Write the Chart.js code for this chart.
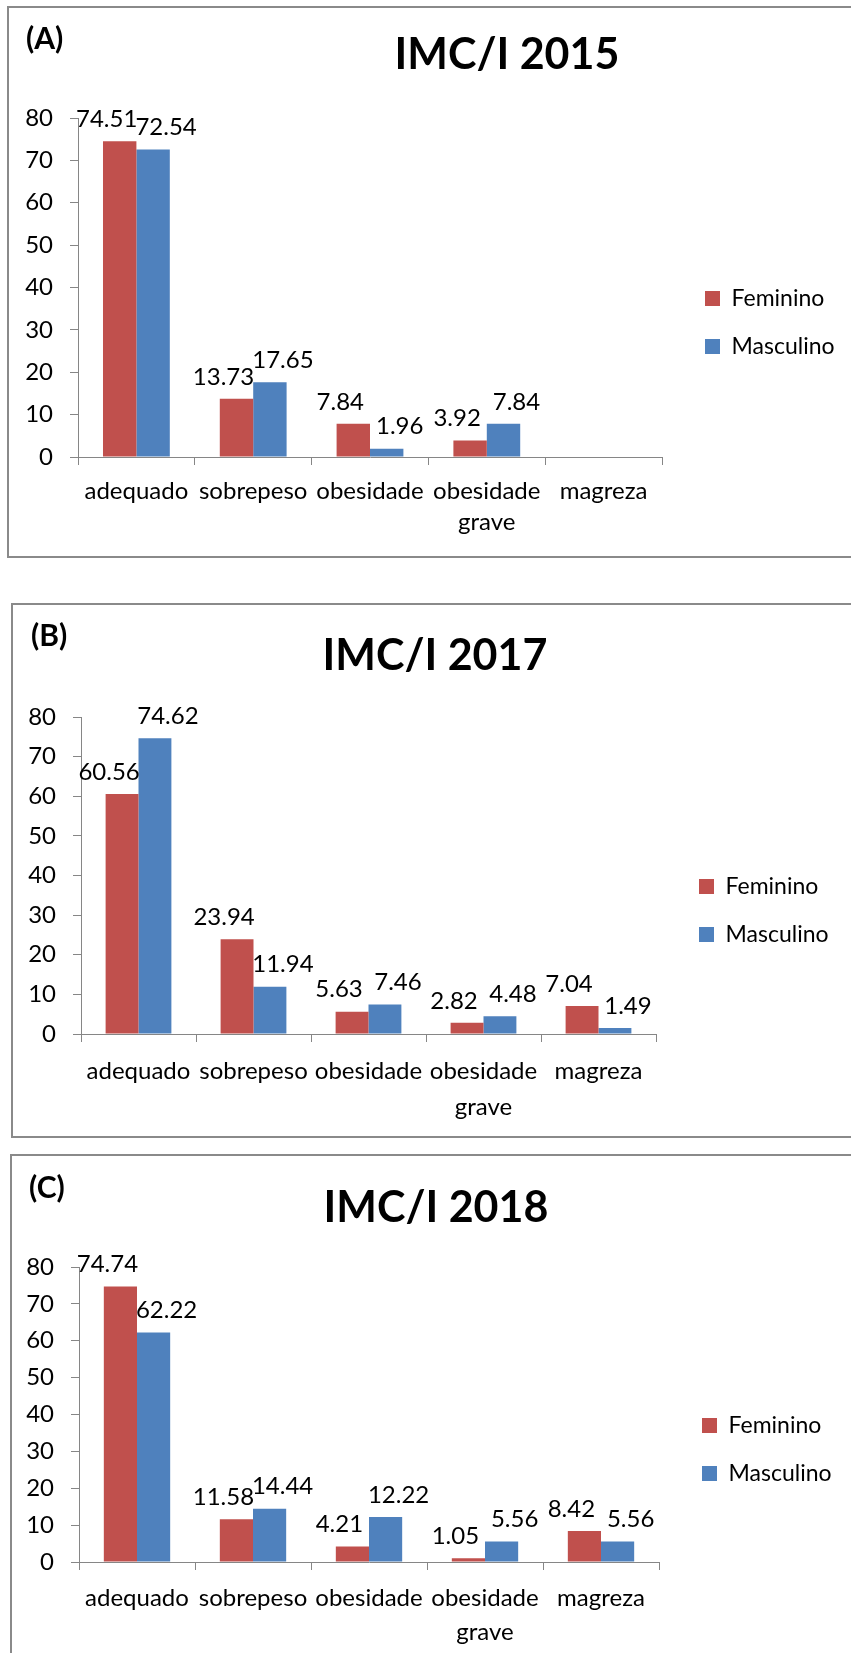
<!DOCTYPE html>
<html>
<head>
<meta charset="utf-8">
<script src="https://cdn.jsdelivr.net/npm/chart.js@4.4.0/dist/chart.umd.min.js"></script>
<style>
  body { margin: 0; background: #fff; width: 851px; height: 1653px; position: relative; overflow: hidden; }
  .box { position: absolute; border: 2px solid #8a8a8a; box-sizing: border-box; }
  canvas { position: absolute; left: 0; }
</style>
</head>
<body>
<div class="box" style="left:7px;top:6px;width:850px;height:552px"></div>
<div class="box" style="left:11px;top:603px;width:850px;height:535px"></div>
<div class="box" style="left:10px;top:1154px;width:850px;height:600px"></div>
<canvas id="chartA" width="851" height="550" style="top:7px"></canvas>
<canvas id="chartB" width="851" height="533" style="top:604px"></canvas>
<canvas id="chartC" width="851" height="498" style="top:1155px"></canvas>
<script>
// categorias e series
const categories = ["adequado", "sobrepeso", "obesidade", ["obesidade", "grave"], "magreza"];
const seriesNames = ["Feminino", "Masculino"];

const fem2015 = [74.51, 13.73, 7.84, 3.92, null];
const masc2015 = [72.54, 17.65, 1.96, 7.84, null];
const fem2017 = [60.56, 23.94, 5.63, 2.82, 7.04];
const masc2017 = [74.62, 11.94, 7.46, 4.48, 1.49];
const fem2018 = [74.74, 11.58, 4.21, 1.05, 8.42];
const masc2018 = [62.22, 14.44, 12.22, 5.56, 5.56];

const yMax = 80;
const yStep = 10;

const FONT = 'Lato, "Open Sans", sans-serif';
Chart.defaults.font.family = FONT;
Chart.defaults.font.size = 24;
Chart.defaults.color = "#000";

const FEM_COLOR = "#C0504D";
const MASC_COLOR = "#4F81BD";
const AXIS_COLOR = "#868686";
const Y_AXIS_W = 55;
const X_AXIS_H = 90;      // altura real do eixo x (duas linhas)
const LEGEND_SPAN = 70;   // a legenda fica centrada como se o eixo tivesse 70px
const LEGEND_PAD = 25;
const LEGEND_GAP = 43;

// letra do painel + titulo
const panelText = {
  id: "panelText",
  afterDraw(chart, args, opts) {
    const ctx = chart.ctx;
    ctx.save();
    ctx.fillStyle = "#000";
    ctx.textBaseline = "alphabetic";
    ctx.font = "bold 30px " + FONT;
    ctx.textAlign = "left";
    ctx.fillText(opts.tag, opts.tagX, opts.tagY);
    ctx.font = "bold 43px " + FONT;
    ctx.textAlign = "center";
    ctx.fillText(opts.title, opts.titleX, opts.titleY);
    ctx.restore();
  }
};

// rotulos de valor acima das barras
const barValues = {
  id: "barValues",
  afterDatasetsDraw(chart) {
    const ctx = chart.ctx;
    ctx.save();
    ctx.font = "24px " + FONT;
    ctx.fillStyle = "#000";
    ctx.textAlign = "center";
    ctx.textBaseline = "middle";
    chart.data.datasets.forEach((ds, i) => {
      const meta = chart.getDatasetMeta(i);
      meta.data.forEach((bar, j) => {
        const v = ds.data[j];
        if (v === null) return;
        const dx = i === 0 ? -13 : 13;
        ctx.fillText(v.toFixed(2), bar.x + dx, bar.y - 22);
      });
    });
    ctx.restore();
  }
};

// legenda um pouco mais afastada do grafico
const legendShift = {
  id: "legendShift",
  afterLayout(chart) {
    const lg = chart.legend;
    if (!lg) return;
    const dx = LEGEND_GAP - LEGEND_PAD;
    const dy = -(X_AXIS_H - LEGEND_SPAN) / 2;
    lg.left += dx; lg.right += dx;
    lg.top += dy; lg.bottom += dy;
  }
};

function buildChart(canvasId, p) {
  const canvas = document.getElementById(canvasId);
  const pad = {
    top: p.area.top,
    bottom: canvas.height - p.area.bottom - X_AXIS_H,
    left: p.area.left - Y_AXIS_W,
    right: 10
  };
  const chart = new Chart(canvas, {
    type: "bar",
    data: {
      labels: categories,
      datasets: [
        { label: seriesNames[0], data: p.fem, backgroundColor: FEM_COLOR, categoryPercentage: 0.572, barPercentage: 1 },
        { label: seriesNames[1], data: p.masc, backgroundColor: MASC_COLOR, categoryPercentage: 0.572, barPercentage: 1 }
      ]
    },
    options: {
      responsive: false,
      animation: false,
      layout: { padding: pad },
      scales: {
        x: {
          grid: { drawOnChartArea: false, offset: true, tickLength: 8, color: AXIS_COLOR },
          border: { color: AXIS_COLOR },
          ticks: { padding: 11, maxRotation: 0, autoSkip: false, font: { size: 24, lineHeight: p.labelLine } },
          afterFit(s) { s.height = X_AXIS_H; }
        },
        y: {
          min: 0,
          max: yMax,
          ticks: { stepSize: yStep, padding: 17, font: { size: 24 } },
          grid: { drawOnChartArea: false, tickLength: 8, color: AXIS_COLOR },
          border: { color: AXIS_COLOR },
          afterFit(s) { s.width = Y_AXIS_W; }
        }
      },
      plugins: {
        legend: {
          position: "right",
          labels: { boxWidth: 15, boxHeight: 15, padding: LEGEND_PAD, font: { size: 23 } }
        },
        tooltip: { enabled: false },
        panelText: p.text
      }
    },
    plugins: [panelText, barValues, legendShift]
  });
  chart.config.options.layout.padding.right += chart.chartArea.right - p.area.right;
  chart.update();
  return chart;
}

buildChart("chartA", {
  fem: fem2015, masc: masc2015, labelLine: "31px",
  area: { left: 78, top: 111, right: 662, bottom: 450 },
  text: { tag: "(A)", tagX: 26, tagY: 42, title: "IMC/I 2015", titleX: 507, titleY: 62 }
});
buildChart("chartB", {
  fem: fem2017, masc: masc2017, labelLine: "36px",
  area: { left: 81, top: 113, right: 656, bottom: 430 },
  text: { tag: "(B)", tagX: 31, tagY: 42, title: "IMC/I 2017", titleX: 435, titleY: 66 }
});
buildChart("chartC", {
  fem: fem2018, masc: masc2018, labelLine: "34px",
  area: { left: 79, top: 112, right: 659, bottom: 407 },
  text: { tag: "(C)", tagX: 29, tagY: 43, title: "IMC/I 2018", titleX: 436, titleY: 67 }
});
</script>
</body>
</html>
